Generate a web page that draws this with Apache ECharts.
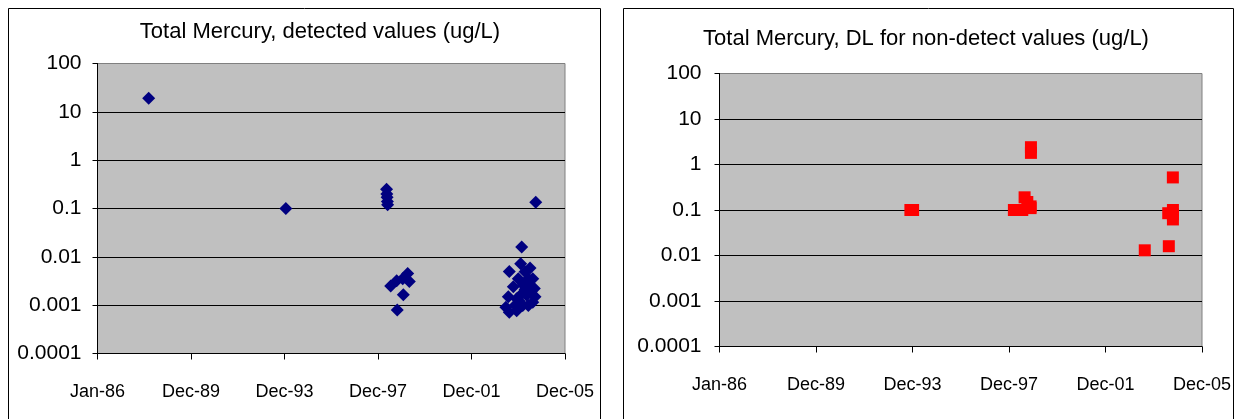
<!DOCTYPE html>
<html>
<head>
<meta charset="utf-8">
<script src="https://cdn.jsdelivr.net/npm/echarts@6/dist/echarts.min.js"></script>
<style>
  html, body { margin: 0; padding: 0; background: #ffffff; }
  #chart { width: 1235px; height: 419px; }
</style>
</head>
<body>
<div id="chart"></div>
<script>
// Axis tick labels
const xTickLabels = ['Jan-86', 'Dec-89', 'Dec-93', 'Dec-97', 'Dec-01', 'Dec-05'];
const yTickLabels = ['0.0001', '0.001', '0.01', '0.1', '1', '10', '100'];

// Total mercury, detected values (ug/L)
const detectedDates = [
  '1988-03-10', '1994-01-20',
  '1998-05-12', '1998-05-16', '1998-05-20', '1998-05-24', '1998-05-28',
  '1998-07-15', '1998-10-17', '1999-01-19', '1999-04-07', '1999-05-02', '1999-01-28', '1998-10-26',
  '2003-08-10', '2004-02-20', '2004-02-04', '2004-06-29', '2004-04-12', '2004-06-02',
  '2003-12-29', '2004-08-10', '2004-09-04', '2003-10-12', '2004-03-16', '2004-09-15',
  '2004-02-20', '2004-05-08', '2003-07-26', '2003-12-04', '2004-08-10', '2003-06-18',
  '2003-08-10', '2003-12-04', '2004-03-07', '2004-06-02', '2004-04-12', '2004-06-29',
  '2004-01-15', '2004-07-15', '2004-05-20', '2003-11-10', '2004-09-26'
];
const detectedValues = [
  19, 0.1,
  0.25, 0.2, 0.17, 0.14, 0.12,
  0.0025, 0.0032, 0.0035, 0.0045, 0.0031, 0.00165, 0.00079,
  0.0050, 0.016, 0.0072, 0.0059, 0.0049, 0.0035,
  0.0035, 0.0035, 0.0022, 0.0024, 0.0026, 0.0015,
  0.0017, 0.0016, 0.0015, 0.00135, 0.00115, 0.00091,
  0.00071, 0.00077, 0.00098, 0.00098, 0.0021, 0.0025,
  0.0012, 0.0019, 0.0030, 0.0010, 0.135
];

// Total mercury, detection limit for non-detect values (ug/L)
const nondetectDates = [
  '1993-11-28', '1994-01-08',
  '1998-03-13', '1998-05-28', '1998-07-18', '1998-08-22', '1998-10-02', '1998-11-21', '1998-11-21',
  '1998-11-26', '1998-11-26',
  '2003-08-14', '2004-08-12', '2004-08-03', '2004-10-13', '2004-10-13', '2004-10-13', '2004-10-12'
];
const nondetectValues = [
  0.1, 0.1,
  0.1, 0.1, 0.1, 0.19, 0.15, 0.12, 0.11,
  2.4, 1.8,
  0.013, 0.016, 0.085, 0.1, 0.08, 0.062, 0.52
];

// Dates are plotted as days since 1 Jan 1986; ticks every 1460 days
const ORIGIN = Date.UTC(1986, 0, 1);
const DAY = 86400000;
const TICK_DAYS = 1460;
function dayOffset(s) {
  const p = s.split('-').map(Number);
  return (Date.UTC(p[0], p[1] - 1, p[2]) - ORIGIN) / DAY;
}
function pairs(dates, values) {
  return dates.map((d, i) => [dayOffset(d), values[i]]);
}

const FONT = '"Liberation Sans", Arial, sans-serif';

function xAxisFor(gridIndex) {
  return {
    type: 'value', gridIndex: gridIndex,
    min: 0, max: TICK_DAYS * 5, interval: TICK_DAYS,
    axisLine: { show: true, onZero: false, lineStyle: { color: '#000', width: 1 } },
    axisTick: { show: true, inside: false, length: 6, lineStyle: { color: '#000' } },
    splitLine: { show: false },
    axisLabel: {
      margin: 30, color: '#000', fontFamily: FONT, fontSize: 18,
      showMinLabel: true, showMaxLabel: true,
      formatter: v => xTickLabels[Math.round(v / TICK_DAYS)]
    }
  };
}
function yAxisFor(gridIndex, margin) {
  return {
    type: 'log', logBase: 10, gridIndex: gridIndex,
    min: 0.0001, max: 100, splitNumber: 6,
    axisLine: { show: true, lineStyle: { color: '#000', width: 1 } },
    axisTick: { show: true, inside: false, length: 5, lineStyle: { color: '#000' } },
    splitLine: {
      show: true,
      lineStyle: { color: ['#000', '#000', '#000', '#000', '#000', '#000', '#808080'], width: 1 }
    },
    axisLabel: {
      margin: margin, color: '#000', fontFamily: FONT, fontSize: 21,
      showMinLabel: true, showMaxLabel: true,
      formatter: v => yTickLabels[Math.round(Math.log10(v)) + 4]
    }
  };
}

const chart = echarts.init(document.getElementById('chart'), null, { renderer: 'canvas' });
chart.setOption({
  animation: false,
  backgroundColor: '#ffffff',
  title: [
    {
      text: 'Total Mercury, detected values (ug/L)',
      left: 315, top: 16, textAlign: 'center',
      textStyle: { fontFamily: FONT, fontSize: 22, fontWeight: 'normal', color: '#000' }
    },
    {
      text: 'Total Mercury, DL for non-detect values (ug/L)',
      left: 921, top: 23, textAlign: 'center',
      textStyle: { fontFamily: FONT, fontSize: 22, fontWeight: 'normal', color: '#000' }
    }
  ],
  graphic: [
    { type: 'rect', silent: true, z: -1,
      shape: { x: 8.5, y: 8.5, width: 592, height: 430 },
      style: { fill: 'none', stroke: '#000', lineWidth: 1 } },
    { type: 'rect', silent: true, z: -1,
      shape: { x: 623.5, y: 8.5, width: 610, height: 430 },
      style: { fill: 'none', stroke: '#000', lineWidth: 1 } }
  ],
  grid: [
    { left: 97.5, top: 63.5, width: 467.5, height: 290, show: true,
      backgroundColor: '#c0c0c0', borderColor: '#808080', borderWidth: 1,
      containLabel: false, outerBoundsMode: 'none' },
    { left: 719.5, top: 73.5, width: 482.5, height: 273, show: true,
      backgroundColor: '#c0c0c0', borderColor: '#808080', borderWidth: 1,
      containLabel: false, outerBoundsMode: 'none' }
  ],
  xAxis: [xAxisFor(0), xAxisFor(1)],
  yAxis: [yAxisFor(0, 16), yAxisFor(1, 18)],
  series: [
    {
      name: 'Detected', type: 'scatter', xAxisIndex: 0, yAxisIndex: 0,
      symbol: 'diamond', symbolSize: 13,
      itemStyle: { color: '#000080', opacity: 1 },
      data: pairs(detectedDates, detectedValues)
    },
    {
      name: 'Non-detect DL', type: 'scatter', xAxisIndex: 1, yAxisIndex: 1,
      symbol: 'rect', symbolSize: 12,
      itemStyle: { color: '#ff0000', opacity: 1 },
      data: pairs(nondetectDates, nondetectValues)
    }
  ]
});
</script>
</body>
</html>
